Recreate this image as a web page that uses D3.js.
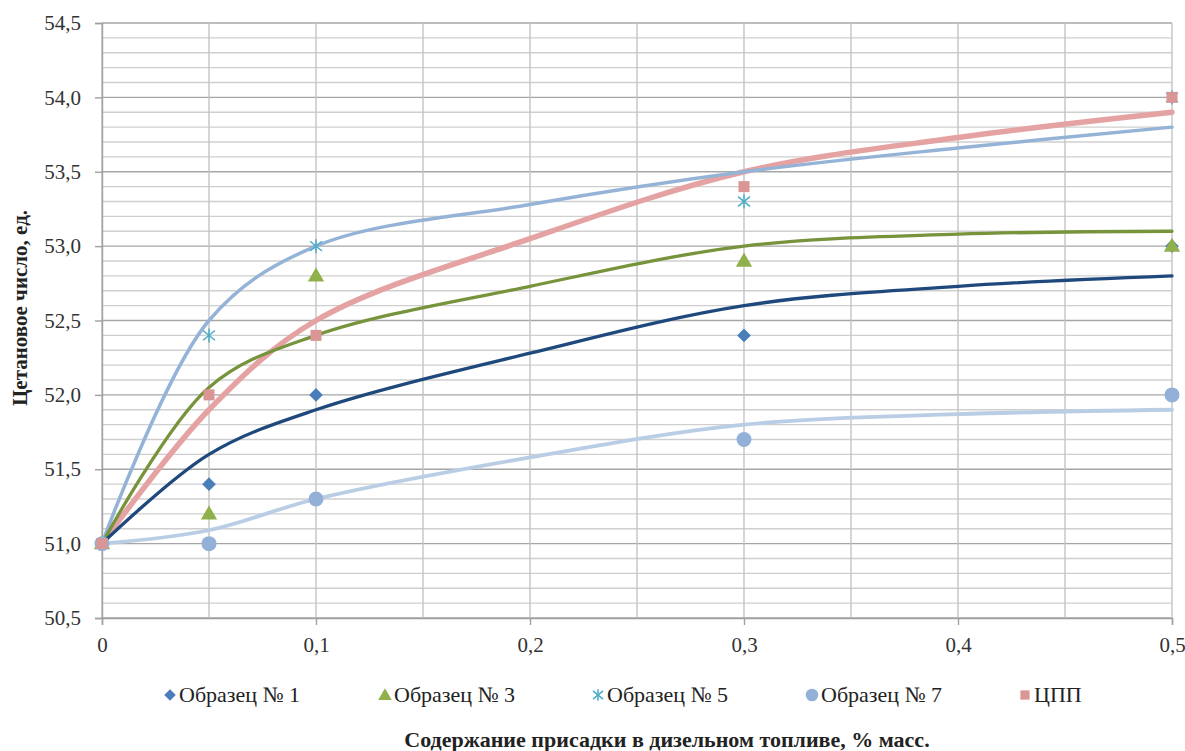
<!DOCTYPE html>
<html>
<head>
<meta charset="utf-8">
<script src="https://cdn.jsdelivr.net/npm/d3@7"></script>
<style>
  html, body { margin: 0; padding: 0; background: #fff; }
  svg { display: block; }
</style>
</head>
<body>
<svg id="chart" width="1185" height="751"></svg>
<script>
// Additive concentration, % mass (measured points)
const doses = [0, 0.05, 0.1, 0.3, 0.5];

// Measured cetane numbers
const sample1 = [51.0, 51.4, 52.0, 52.4, 53.0];
const sample3 = [51.0, 51.2, 52.8, 52.9, 53.0];
const sample5 = [51.0, 52.4, 53.0, 53.3, 54.0];
const sample7 = [51.0, 51.0, 51.3, 51.7, 52.0];
const samplePPD = [51.0, 52.0, 52.4, 53.4, 54.0];

// Smoothed trend curves
const trendX = [0, 0.05, 0.1, 0.2, 0.3, 0.4, 0.5];
const trend1 = [51.0, 51.6, 51.9, 52.28, 52.6, 52.73, 52.8];
const trend3 = [51.0, 52.05, 52.4, 52.73, 53.0, 53.08, 53.1];
const trend5 = [51.0, 52.5, 53.0, 53.28, 53.5, 53.66, 53.8];
const trend7 = [51.0, 51.09, 51.3, 51.58, 51.8, 51.87, 51.9];
const trendPPD = [51.0, 51.9, 52.5, 53.05, 53.5, 53.73, 53.9];

// Axis ticks
const xTicks = [0, 0.1, 0.2, 0.3, 0.4, 0.5];
const yTicks = [50.5, 51.0, 51.5, 52.0, 52.5, 53.0, 53.5, 54.0, 54.5];
const seriesNames = ["Образец № 1", "Образец № 3", "Образец № 5", "Образец № 7", "ЦПП"];

const FONT = '"Liberation Serif", serif';

const svg = d3.select("#chart");
const x = d3.scaleLinear().domain([0, 0.5]).range([102, 1172]);
const y = d3.scaleLinear().domain([50.5, 54.5]).range([618, 23]);
const fmt = v => d3.format(".1f")(v).replace(".", ",");
const fmtX = v => (v === 0 ? "0" : d3.format(".1f")(v).replace(".", ","));

// Grid
const grid = svg.append("g");
const hLines = d3.range(0, 41).map(i => 50.5 + i * 0.1);
grid.selectAll("line.h").data(hLines).join("line")
  .attr("x1", x(0)).attr("x2", x(0.5))
  .attr("y1", d => y(d)).attr("y2", d => y(d))
  .attr("stroke", (d, i) => i % 5 === 0 ? "#a6a6a6" : "#cfcfcf")
  .attr("stroke-width", 1.4);
const vLines = d3.range(0, 11).map(i => i * 0.05);
grid.selectAll("line.v").data(vLines).join("line")
  .attr("x1", d => x(d)).attr("x2", d => x(d))
  .attr("y1", y(54.5)).attr("y2", y(50.5))
  .attr("stroke", "#c4c4c4")
  .attr("stroke-width", 1.4);

// Axes
const yAxis = d3.axisLeft(y).tickValues(yTicks).tickFormat(fmt).tickSize(7).tickPadding(14);
const gy = svg.append("g").attr("transform", `translate(${x(0)},0)`).call(yAxis);
const xAxis = d3.axisBottom(x).tickValues(xTicks).tickFormat(fmtX).tickSize(7).tickPadding(12);
const gx = svg.append("g").attr("transform", `translate(0,${y(50.5)})`).call(xAxis);
[gx, gy].forEach(g => {
  g.select(".domain").attr("stroke", "#a0a0a0").attr("stroke-width", 1.4);
  g.selectAll(".tick line").attr("stroke", "#a0a0a0").attr("stroke-width", 1.4);
  g.selectAll(".tick text").attr("fill", "#333")
    .style("font-family", FONT).style("font-size", "21px");
});

// Trend curves
const trends = [
  { vals: trendPPD, color: "#e4a3a2", width: 5.5 },
  { vals: trend7, color: "#b9cde5", width: 3.8 },
  { vals: trend5, color: "#95b3d7", width: 3.5 },
  { vals: trend3, color: "#77933c", width: 3.3 },
  { vals: trend1, color: "#1f497d", width: 3.3 }
];
const line = d3.line().x(d => x(d[0])).y(d => y(d[1])).curve(d3.curveCatmullRom.alpha(0.5));
svg.append("g").selectAll("path").data(trends).join("path")
  .attr("d", t => line(trendX.map((xv, i) => [xv, t.vals[i]])))
  .attr("fill", "none")
  .attr("stroke", t => t.color)
  .attr("stroke-width", t => t.width)
  .attr("stroke-linecap", "round");

// Marker shapes
const colors = ["#4a7ebb", "#8fb04b", "#4bacc6", "#93b1d8", "#d99694"];
function drawMarker(g, kind, cx, cy, color, scale) {
  const s = scale || 1;
  if (kind === 0) {
    g.append("path").attr("d", d3.symbol(d3.symbolDiamond2, 120 * s)())
      .attr("transform", `translate(${cx},${cy})`).attr("fill", color);
  } else if (kind === 1) {
    g.append("path").attr("d", d3.symbol(d3.symbolTriangle, 115 * s)())
      .attr("transform", `translate(${cx},${cy + 1})`).attr("fill", color);
  } else if (kind === 2) {
    const r = 7 * Math.sqrt(s);
    const gs = g.append("g").attr("transform", `translate(${cx},${cy})`)
      .attr("stroke", color).attr("stroke-width", 1.5);
    gs.append("line").attr("x1", 0).attr("x2", 0).attr("y1", -r).attr("y2", r);
    gs.append("line").attr("x1", -r * 0.85).attr("x2", r * 0.85).attr("y1", -r * 0.7).attr("y2", r * 0.7);
    gs.append("line").attr("x1", -r * 0.85).attr("x2", r * 0.85).attr("y1", r * 0.7).attr("y2", -r * 0.7);
  } else if (kind === 3) {
    g.append("circle").attr("cx", cx).attr("cy", cy).attr("r", 7.5 * Math.sqrt(s)).attr("fill", color);
  } else {
    const h = 5.5 * Math.sqrt(s);
    g.append("rect").attr("x", cx - h).attr("y", cy - h).attr("width", 2 * h).attr("height", 2 * h).attr("fill", color);
  }
}

// Measured points
const measured = [sample1, sample3, sample5, sample7, samplePPD];
const pts = svg.append("g");
measured.forEach((vals, k) => {
  vals.forEach((v, i) => drawMarker(pts, k, x(doses[i]), y(v), colors[k]));
});

// Legend
const legendX = [170, 385, 598, 812, 1025];
const leg = svg.append("g");
seriesNames.forEach((name, k) => {
  drawMarker(leg, k, legendX[k], 695, colors[k], 0.7);
  leg.append("text").attr("x", legendX[k] + 9).attr("y", 702)
    .attr("fill", "#222")
    .style("font-family", FONT).style("font-size", "22px")
    .text(name);
});

// Axis titles
svg.append("text").attr("x", 667).attr("y", 747).attr("text-anchor", "middle")
  .attr("fill", "#222")
  .style("font-family", FONT).style("font-size", "22px").style("font-weight", "bold")
  .text("Содержание присадки в дизельном топливе, % масс.");
svg.append("text").attr("transform", "translate(27,308) rotate(-90)").attr("text-anchor", "middle")
  .attr("fill", "#222")
  .style("font-family", FONT).style("font-size", "21px").style("font-weight", "bold")
  .text("Цетановое число, ед.");
</script>
</body>
</html>
